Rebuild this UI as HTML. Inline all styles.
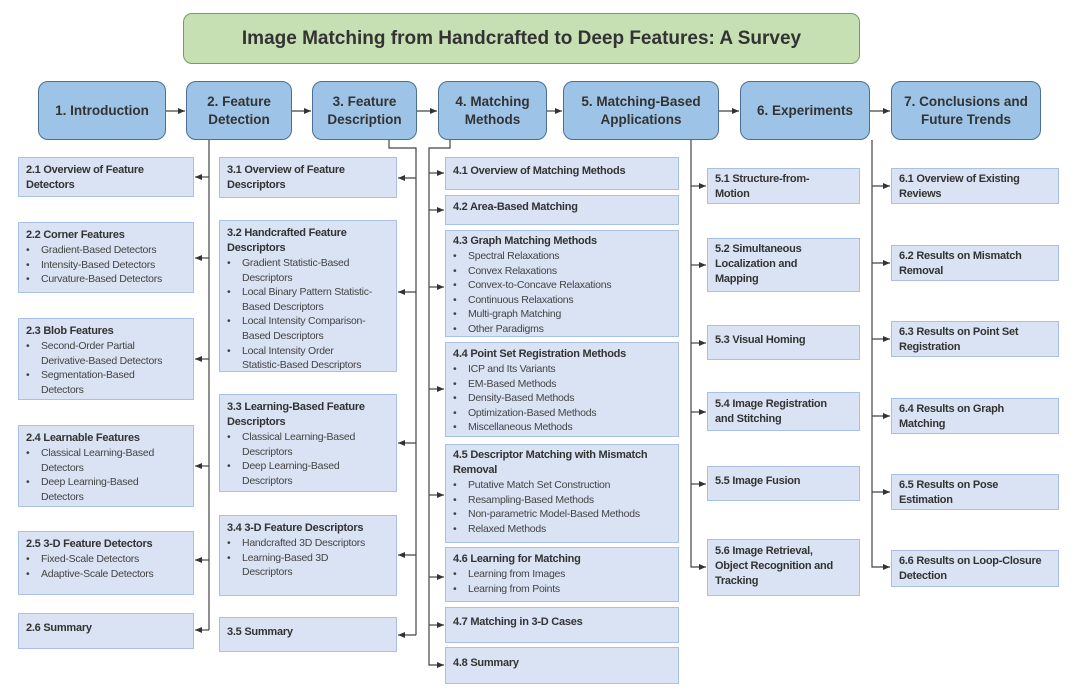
<!DOCTYPE html>
<html><head><meta charset="utf-8"><style>
body{margin:0;width:1080px;height:695px;background:#fff;position:relative;overflow:hidden;font-family:"Liberation Sans",sans-serif;color:#333}
.t{position:absolute;left:183px;top:13px;width:677px;height:51px;background:#c6e0b4;border:1.5px solid #7a9a64;border-radius:9px;display:flex;align-items:center;justify-content:center;font-weight:bold;font-size:19px;color:#333;box-sizing:border-box}
.h{position:absolute;top:81px;height:59px;background:#9dc3e6;border:1.5px solid #4a6e96;border-radius:10px;box-sizing:border-box;display:flex;align-items:center;justify-content:center;text-align:center;font-weight:bold;font-size:13.5px;line-height:18px;color:#333}
.b{position:absolute;background:#dae3f3;border:1.5px solid #a9bfe6;box-sizing:border-box;padding:5px 6px 0 7px;font-size:11px;line-height:15px;letter-spacing:-0.25px}
.b b{font-weight:bold;color:#333;display:block}
.b .c{display:flex;align-items:center;height:100%;padding:0;margin-top:-5px}
.b ul{margin:0;padding:0;list-style:none}
.b li{position:relative;padding-left:15px;font-size:10.5px;line-height:14.6px;color:#444}
.b li:before{content:"•";position:absolute;left:0}
svg{position:absolute;left:0;top:0}
</style></head><body>
<div class="t">Image Matching from Handcrafted to Deep Features: A Survey</div>
<div class="h" style="left:38px;width:128px">1. Introduction</div>
<div class="h" style="left:186px;width:106px">2. Feature<br>Detection</div>
<div class="h" style="left:312px;width:105px">3. Feature<br>Description</div>
<div class="h" style="left:438px;width:109px">4. Matching<br>Methods</div>
<div class="h" style="left:563px;width:156px">5. Matching-Based<br>Applications</div>
<div class="h" style="left:740px;width:130px">6. Experiments</div>
<div class="h" style="left:891px;width:150px">7. Conclusions and<br>Future Trends</div>

<svg width="1080" height="695">
<defs><marker id="a" markerWidth="8" markerHeight="8" refX="7" refY="4" orient="auto" markerUnits="userSpaceOnUse"><path d="M0,1 L7,4 L0,7z" fill="#333"/></marker></defs>
<g stroke="#444" stroke-width="1.2" fill="none">
<line x1="166" y1="111" x2="185" y2="111" marker-end="url(#a)"/>
<line x1="292" y1="111" x2="311" y2="111" marker-end="url(#a)"/>
<line x1="417" y1="111" x2="437" y2="111" marker-end="url(#a)"/>
<line x1="547" y1="111" x2="562" y2="111" marker-end="url(#a)"/>
<line x1="719" y1="111" x2="739" y2="111" marker-end="url(#a)"/>
<line x1="870" y1="111" x2="890" y2="111" marker-end="url(#a)"/>
<polyline points="209,140 209,630"/>
<line x1="209" y1="177" x2="195" y2="177" marker-end="url(#a)"/>
<line x1="209" y1="258" x2="195" y2="258" marker-end="url(#a)"/>
<line x1="209" y1="359" x2="195" y2="359" marker-end="url(#a)"/>
<line x1="209" y1="466" x2="195" y2="466" marker-end="url(#a)"/>
<line x1="209" y1="560" x2="195" y2="560" marker-end="url(#a)"/>
<line x1="209" y1="630" x2="195" y2="630" marker-end="url(#a)"/>
<polyline points="389,140 389,148 416,148 416,635"/>
<line x1="416" y1="178" x2="398" y2="178" marker-end="url(#a)"/>
<line x1="416" y1="292" x2="398" y2="292" marker-end="url(#a)"/>
<line x1="416" y1="443" x2="398" y2="443" marker-end="url(#a)"/>
<line x1="416" y1="555" x2="398" y2="555" marker-end="url(#a)"/>
<line x1="416" y1="635" x2="398" y2="635" marker-end="url(#a)"/>
<polyline points="450,140 450,148 429,148 429,665 444,665" marker-end="url(#a)"/>
<line x1="429" y1="173" x2="444" y2="173" marker-end="url(#a)"/>
<line x1="429" y1="210" x2="444" y2="210" marker-end="url(#a)"/>
<line x1="429" y1="287" x2="444" y2="287" marker-end="url(#a)"/>
<line x1="429" y1="389" x2="444" y2="389" marker-end="url(#a)"/>
<line x1="429" y1="495" x2="444" y2="495" marker-end="url(#a)"/>
<line x1="429" y1="577" x2="444" y2="577" marker-end="url(#a)"/>
<line x1="429" y1="625" x2="444" y2="625" marker-end="url(#a)"/>
<polyline points="691,140 691,567 706,567" marker-end="url(#a)"/>
<line x1="691" y1="186" x2="706" y2="186" marker-end="url(#a)"/>
<line x1="691" y1="265" x2="706" y2="265" marker-end="url(#a)"/>
<line x1="691" y1="343" x2="706" y2="343" marker-end="url(#a)"/>
<line x1="691" y1="412" x2="706" y2="412" marker-end="url(#a)"/>
<line x1="691" y1="484" x2="706" y2="484" marker-end="url(#a)"/>
<polyline points="872,140 872,567 890,567" marker-end="url(#a)"/>
<line x1="872" y1="186" x2="890" y2="186" marker-end="url(#a)"/>
<line x1="872" y1="263" x2="890" y2="263" marker-end="url(#a)"/>
<line x1="872" y1="339" x2="890" y2="339" marker-end="url(#a)"/>
<line x1="872" y1="416" x2="890" y2="416" marker-end="url(#a)"/>
<line x1="872" y1="492" x2="890" y2="492" marker-end="url(#a)"/>
</g></svg>

<!-- column 2 -->
<div class="b" style="left:18px;top:157px;width:176px;height:40px"><b>2.1 Overview of Feature<br>Detectors</b></div>
<div class="b" style="left:18px;top:222px;width:176px;height:71px"><b>2.2 Corner Features</b><ul><li>Gradient-Based Detectors</li><li>Intensity-Based Detectors</li><li>Curvature-Based Detectors</li></ul></div>
<div class="b" style="left:18px;top:318px;width:176px;height:82px"><b>2.3 Blob Features</b><ul><li>Second-Order Partial<br>Derivative-Based Detectors</li><li>Segmentation-Based<br>Detectors</li></ul></div>
<div class="b" style="left:18px;top:425px;width:176px;height:82px"><b>2.4 Learnable Features</b><ul><li>Classical Learning-Based<br>Detectors</li><li>Deep Learning-Based<br>Detectors</li></ul></div>
<div class="b" style="left:18px;top:531px;width:176px;height:64px"><b>2.5 3-D Feature Detectors</b><ul><li>Fixed-Scale Detectors</li><li>Adaptive-Scale Detectors</li></ul></div>
<div class="b" style="left:18px;top:613px;width:176px;height:36px"><b class="c">2.6 Summary</b></div>
<!-- column 3 -->
<div class="b" style="left:219px;top:157px;width:178px;height:41px"><b>3.1 Overview of Feature<br>Descriptors</b></div>
<div class="b" style="left:219px;top:220px;width:178px;height:152px"><b>3.2 Handcrafted Feature<br>Descriptors</b><ul><li>Gradient Statistic-Based<br>Descriptors</li><li>Local Binary Pattern Statistic-<br>Based Descriptors</li><li>Local Intensity Comparison-<br>Based Descriptors</li><li>Local Intensity Order<br>Statistic-Based Descriptors</li></ul></div>
<div class="b" style="left:219px;top:394px;width:178px;height:98px"><b>3.3 Learning-Based Feature<br>Descriptors</b><ul><li>Classical Learning-Based<br>Descriptors</li><li>Deep Learning-Based<br>Descriptors</li></ul></div>
<div class="b" style="left:219px;top:515px;width:178px;height:81px"><b>3.4 3-D Feature Descriptors</b><ul><li>Handcrafted 3D Descriptors</li><li>Learning-Based 3D<br>Descriptors</li></ul></div>
<div class="b" style="left:219px;top:617px;width:178px;height:35px"><b class="c">3.5 Summary</b></div>
<!-- column 4 -->
<div class="b" style="left:445px;top:157px;width:234px;height:33px"><b class="c">4.1 Overview of Matching Methods</b></div>
<div class="b" style="left:445px;top:195px;width:234px;height:30px"><b class="c">4.2 Area-Based Matching</b></div>
<div class="b" style="left:445px;top:230px;width:234px;height:107px;padding-top:3px"><b>4.3 Graph Matching Methods</b><ul><li>Spectral Relaxations</li><li>Convex Relaxations</li><li>Convex-to-Concave Relaxations</li><li>Continuous Relaxations</li><li>Multi-graph Matching</li><li>Other Paradigms</li></ul></div>
<div class="b" style="left:445px;top:342px;width:234px;height:95px;padding-top:4px"><b>4.4 Point Set Registration Methods</b><ul><li>ICP and Its Variants</li><li>EM-Based Methods</li><li>Density-Based Methods</li><li>Optimization-Based Methods</li><li>Miscellaneous Methods</li></ul></div>
<div class="b" style="left:445px;top:444px;width:234px;height:99px;padding-top:3px"><b>4.5 Descriptor Matching with Mismatch<br>Removal</b><ul><li>Putative Match Set Construction</li><li>Resampling-Based Methods</li><li>Non-parametric Model-Based Methods</li><li>Relaxed Methods</li></ul></div>
<div class="b" style="left:445px;top:547px;width:234px;height:55px;padding-top:4px"><b>4.6 Learning for Matching</b><ul><li>Learning from Images</li><li>Learning from Points</li></ul></div>
<div class="b" style="left:445px;top:607px;width:234px;height:36px"><b class="c">4.7 Matching in 3-D Cases</b></div>
<div class="b" style="left:445px;top:647px;width:234px;height:37px"><b class="c">4.8 Summary</b></div>
<!-- column 5 -->
<div class="b" style="left:707px;top:168px;width:153px;height:36px;padding-top:3px"><b>5.1 Structure-from-<br>Motion</b></div>
<div class="b" style="left:707px;top:238px;width:153px;height:54px;padding-top:3px"><b>5.2 Simultaneous<br>Localization and<br>Mapping</b></div>
<div class="b" style="left:707px;top:325px;width:153px;height:35px"><b class="c">5.3 Visual Homing</b></div>
<div class="b" style="left:707px;top:392px;width:153px;height:39px;padding-top:4px"><b>5.4 Image Registration<br>and Stitching</b></div>
<div class="b" style="left:707px;top:466px;width:153px;height:35px"><b class="c">5.5 Image Fusion</b></div>
<div class="b" style="left:707px;top:539px;width:153px;height:57px;padding-top:4px"><b>5.6 Image Retrieval,<br>Object Recognition and<br>Tracking</b></div>
<!-- column 6 -->
<div class="b" style="left:891px;top:168px;width:168px;height:36px;padding-top:3px"><b>6.1 Overview of Existing<br>Reviews</b></div>
<div class="b" style="left:891px;top:245px;width:168px;height:36px;padding-top:3px"><b>6.2 Results on Mismatch<br>Removal</b></div>
<div class="b" style="left:891px;top:321px;width:168px;height:36px;padding-top:3px"><b>6.3 Results on Point Set<br>Registration</b></div>
<div class="b" style="left:891px;top:398px;width:168px;height:36px;padding-top:3px"><b>6.4 Results on Graph<br>Matching</b></div>
<div class="b" style="left:891px;top:474px;width:168px;height:36px;padding-top:3px"><b>6.5 Results on Pose<br>Estimation</b></div>
<div class="b" style="left:891px;top:550px;width:168px;height:37px;padding-top:3px"><b>6.6 Results on Loop-Closure<br>Detection</b></div>
</body></html>
